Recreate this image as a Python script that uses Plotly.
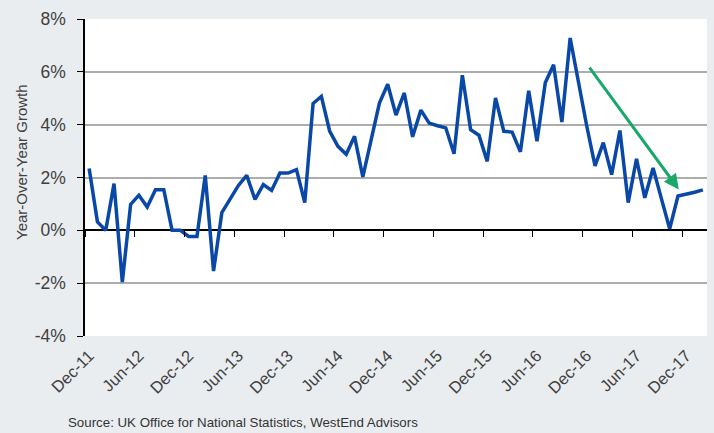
import plotly.graph_objects as go
import pandas as pd

# Monthly categories Dec-11 .. Feb-18
months = [d.strftime("%b-%y") for d in pd.date_range("2011-12-01", "2018-02-01", freq="MS")]
growth = [
    2.34, 0.32, 0.00, 1.77, -1.96, 0.98, 1.33, 0.88, 1.54, 1.54, 0.00, 0.00,
    -0.23, -0.23, 2.08, -1.54, 0.67, 1.20, 1.70, 2.08, 1.17, 1.73, 1.51, 2.17,
    2.17, 2.30, 1.05, 4.80, 5.07, 3.76, 3.18, 2.88, 3.56, 2.02, 3.47, 4.82,
    5.53, 4.36, 5.20, 3.54, 4.55, 4.06, 3.96, 3.88, 2.90, 5.87, 3.81, 3.60,
    2.61, 5.01, 3.75, 3.72, 2.97, 5.28, 3.37, 5.59, 6.27, 4.10, 7.28, 5.60,
    3.95, 2.44, 3.32, 2.11, 3.78, 1.05, 2.71, 1.23, 2.36, 1.20, 0.06, 1.30,
    1.36, 1.44, 1.53,
]
x_tick_labels = ["Dec-11", "Jun-12", "Dec-12", "Jun-13", "Dec-13", "Jun-14", "Dec-14",
                 "Jun-15", "Dec-15", "Jun-16", "Dec-16", "Jun-17", "Dec-17"]
y_ticks = [-4, -2, 0, 2, 4, 6, 8]
y_tick_labels = ["-4%", "-2%", "0%", "2%", "4%", "6%", "8%"]
arrow_from = ("Nov-16", 6.22)
arrow_to = ("Dec-17", 1.55)

idx = list(range(len(months)))
label_pos = [months.index(m) for m in x_tick_labels]
boundary_pos = [p - 0.5 for p in label_pos]

fig = go.Figure()
fig.add_trace(go.Scatter(x=idx, y=growth, mode="lines",
                         line=dict(color="#0a48a8", width=3.5), hoverinfo="skip"))

font = "Liberation Sans, Arial, sans-serif"
fig.update_layout(
    width=714, height=433,
    margin=dict(l=85, r=7, t=19, b=97),
    paper_bgcolor="#eaedf0", plot_bgcolor="white",
    showlegend=False,
    font=dict(family=font, color="#404040"),
    xaxis=dict(range=[-0.5, len(months) - 0.5], tickvals=label_pos, ticktext=x_tick_labels,
               tickangle=-45, ticks="", showgrid=False, zeroline=False, showline=False,
               tickfont=dict(size=16.5, color="#404040"), ticklabelstandoff=6),
    xaxis2=dict(range=[-0.5, len(months) - 0.5], overlaying="x", anchor="free",
                position=1/3, side="bottom", tickvals=boundary_pos, ticks="outside",
                ticklen=6, tickwidth=1.2, tickcolor="black", showticklabels=False,
                showgrid=False, zeroline=False, showline=False),
    yaxis=dict(range=[-4, 8], tickvals=y_ticks, ticktext=y_tick_labels,
               showgrid=True, gridcolor="#adadad", gridwidth=1.5,
               zeroline=True, zerolinecolor="black", zerolinewidth=1.5,
               showline=True, linecolor="black", linewidth=1.5,
               ticks="outside", ticklen=6, tickcolor="black", tickwidth=1.2,
               tickfont=dict(size=17.5, color="#404040"), ticklabelstandoff=8),
)
# dummy trace so xaxis2 is drawn
fig.add_trace(go.Scatter(x=[None], y=[None], xaxis="x2", yaxis="y", hoverinfo="skip"))

fig.add_annotation(x=months.index(arrow_to[0]) - 0.9, y=arrow_to[1],
                   ax=months.index(arrow_from[0]) + 1.2, ay=arrow_from[1],
                   xref="x", yref="y", axref="x", ayref="y",
                   showarrow=True, arrowhead=2, arrowsize=1, arrowwidth=3,
                   arrowcolor="#17a86a", text="")
fig.add_annotation(text="Year-Over-Year Growth", textangle=-90,
                   xref="paper", yref="paper", x=(21 - 85) / 622, y=(336 - 162) / 317,
                   xanchor="center", yanchor="middle", showarrow=False,
                   font=dict(size=15, color="#404040"))
fig.add_annotation(text="Source: UK Office for National Statistics, WestEnd Advisors",
                   xref="paper", yref="paper", x=(66 - 85) / 622, y=(336 - 422) / 317,
                   xanchor="left", yanchor="middle", showarrow=False,
                   font=dict(size=13.3, color="#333333"))

fig.write_html("out.html")
